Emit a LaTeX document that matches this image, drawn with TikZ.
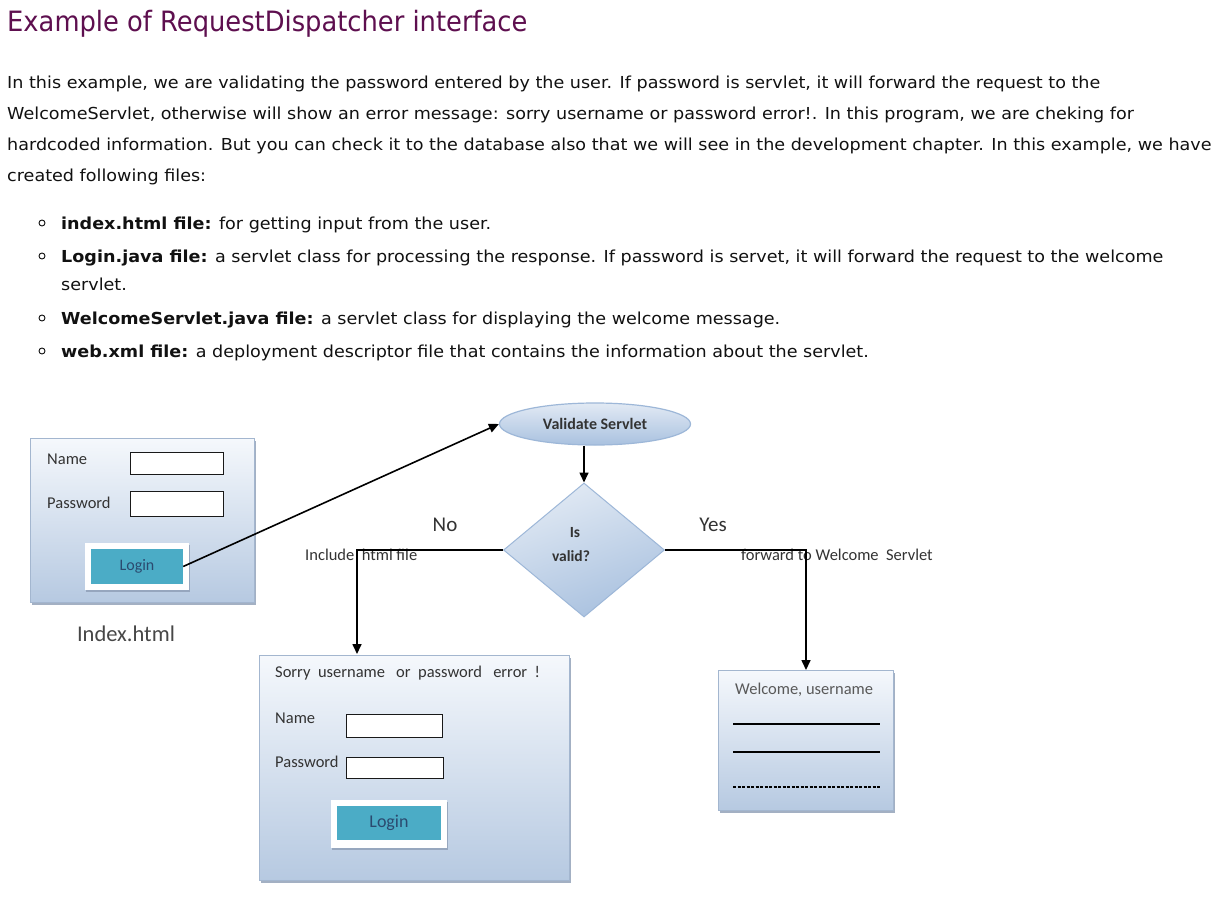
\documentclass[tikz,border=0pt]{standalone}
\usepackage{fontspec}
\setmainfont{DejaVu Sans}[FakeStretch=1.065]
\newfontfamily\titlefont[FakeStretch=0.92]{DejaVu Sans}
\newfontfamily\diafont{Carlito}
\usetikzlibrary{arrows.meta,shapes.geometric,shadows}
\definecolor{titlecol}{HTML}{5E0F4F}
\definecolor{bodytext}{HTML}{111111}
\definecolor{boxtop}{HTML}{F5F8FC}
\definecolor{boxbot}{HTML}{B6C9E1}
\definecolor{boxborder}{HTML}{A3B6CF}
\definecolor{shadowcol}{HTML}{8D9DB5}
\definecolor{teal}{HTML}{4BACC6}
\definecolor{logintext}{HTML}{2B4A6F}
\definecolor{diatext}{HTML}{333333}
\definecolor{elltop}{HTML}{E2EAF4}
\definecolor{ellbot}{HTML}{A9C1DF}
\definecolor{ellborder}{HTML}{9DB7D8}
\begin{document}
\begin{tikzpicture}[x=1pt,y=-1pt,
  bodyline/.style={anchor=base west,inner sep=0pt,text=bodytext,font=\fontsize{16.5}{19}\selectfont},
  bulletmark/.style={draw=bodytext,line width=0.9pt,circle,inner sep=0pt,minimum size=6pt},
  winbox/.style={draw=boxborder,line width=1pt,top color=boxtop,bottom color=boxbot,
    drop shadow={shadow xshift=1.5pt,shadow yshift=-2.5pt,fill=shadowcol,opacity=0.8},
    anchor=north west,inner sep=0pt},
  field/.style={draw=black!90,line width=1.3pt,fill=white,anchor=north west,inner sep=0pt},
  btnframe/.style={fill=white,anchor=north west,inner sep=0pt,
    drop shadow={shadow xshift=1pt,shadow yshift=-2pt,fill=shadowcol,opacity=0.8}},
  btn/.style={fill=teal,inner sep=0pt,text=logintext},
  dlabel/.style={inner sep=0pt,text=diatext,font=\diafont\fontsize{16.5}{18}\selectfont},
  arr/.style={draw=black,line width=1.6pt,-{Triangle[length=10pt,width=9pt]}}]
\useasboundingbox (0,0) rectangle (1231,897);
\fill[white] (0,0) rectangle (1231,897);

% ---------- title and body text ----------
\node[anchor=base west,inner sep=0pt,text=titlecol,font=\titlefont\fontsize{28}{31}\selectfont] (title) at (7,31) {Example of RequestDispatcher interface};

\node[bodyline] (p1) at (7,88) {In this example, we are validating the password entered by the user. If password is servlet, it will forward the request to the};
\node[bodyline] (p2) at (7,119) {WelcomeServlet, otherwise will show an error message: sorry username or password error!. In this program, we are cheking for};
\node[bodyline] (p3) at (7,150) {hardcoded information. But you can check it to the database also that we will see in the development chapter. In this example, we have};
\node[bodyline] (p4) at (7,181) {created following files:};

\node[bulletmark] (b1) at (42,223) {};
\node[bodyline] (l1) at (61,229) {\textbf{index.html file:} for getting input from the user.};
\node[bulletmark] (b2) at (42,256) {};
\node[bodyline] (l2) at (61,262) {\textbf{Login.java file:} a servlet class for processing the response. If password is servet, it will forward the request to the welcome};
\node[bodyline] (l2b) at (61,290) {servlet.};
\node[bulletmark] (b3) at (42,318) {};
\node[bodyline] (l3) at (61,324) {\textbf{WelcomeServlet.java file:} a servlet class for displaying the welcome message.};
\node[bulletmark] (b4) at (42,351) {};
\node[bodyline] (l4) at (61,357) {\textbf{web.xml file:} a deployment descriptor file that contains the information about the servlet.};

% ---------- Index.html window ----------
\node[winbox,minimum width=224pt,minimum height=164pt] (index) at (30,438) {};
\node[dlabel,anchor=west] (iname) at (47,459) {Name};
\node[field,minimum width=93pt,minimum height=22pt] (inamef) at (130,452) {};
\node[dlabel,anchor=west] (ipass) at (47,503) {Password};
\node[field,minimum width=93pt,minimum height=25pt] (ipassf) at (130,491) {};
\node[btnframe,minimum width=104pt,minimum height=47pt] (ibtnframe) at (85,543) {};
\node[btn,minimum width=92pt,minimum height=35pt,font=\diafont\fontsize{16}{18}\selectfont] (ilogin) at (137,566.5) {Login};
\node[inner sep=0pt,text=black!72,font=\diafont\fontsize{22.5}{24}\selectfont] (indexlbl) at (126,634) {Index.html};

% ---------- Validate servlet / decision ----------
\node[ellipse,draw=ellborder,line width=1.2pt,top color=elltop,bottom color=ellbot,
  minimum width=191pt,minimum height=42pt,inner sep=0pt,
  font=\diafont\bfseries\fontsize{16}{18}\selectfont,text=diatext] (valid) at (595,424) {Validate Servlet};
\node[diamond,draw=ellborder,line width=1pt,top color=elltop,bottom color=ellbot,shading angle=20,
  minimum width=161pt,minimum height=134pt,inner sep=0pt] (isvalid) at (584,550) {};
\node[dlabel,font=\diafont\bfseries\fontsize{15.5}{17}\selectfont] (istxt) at (575,533) {Is};
\node[dlabel,font=\diafont\bfseries\fontsize{15.5}{17}\selectfont] (validtxt) at (571,556) {valid?};

\node[inner sep=0pt,text=diatext,font=\diafont\fontsize{21}{23}\selectfont] (no) at (445,525) {No};
\node[inner sep=0pt,text=diatext,font=\diafont\fontsize{21}{23}\selectfont] (yes) at (713,525) {Yes};
\node[dlabel,anchor=west] (inctxt) at (305,555) {Include\ \ html file};
\node[dlabel,anchor=west] (fwdtxt) at (741,555) {forward to Welcome\ \ Servlet};

% ---------- error window ----------
\node[winbox,minimum width=310pt,minimum height=225pt] (errbox) at (259,655) {};
\node[dlabel,anchor=west] (errtxt) at (275,673) {Sorry\ \ username\ \ \ or\ \ password\ \ \ error\ \ !};
\node[dlabel,anchor=west] (ename) at (275,718) {Name};
\node[field,minimum width=96pt,minimum height=23pt] (enamef) at (346,714) {};
\node[dlabel,anchor=west] (epass) at (275,762) {Password};
\node[field,minimum width=97pt,minimum height=21pt] (epassf) at (346,757) {};
\node[btnframe,minimum width=116pt,minimum height=48pt] (ebtnframe) at (331,800) {};
\node[btn,minimum width=104pt,minimum height=34pt,font=\diafont\fontsize{18}{20}\selectfont] (elogin) at (389,823) {Login};

% ---------- welcome window ----------
\node[winbox,minimum width=175pt,minimum height=140pt] (welcome) at (718,670) {};
\node[dlabel,anchor=west,text=black!65] (weltxt) at (735,690) {Welcome, username};
\coordinate (w1a) at (733,724); \coordinate (w1b) at (880,724);
\coordinate (w2a) at (733,752); \coordinate (w2b) at (880,752);
\coordinate (w3a) at (733,787); \coordinate (w3b) at (880,787);
\draw[line width=1.1pt] (w1a) -- (w1b);
\draw[line width=1.1pt] (w2a) -- (w2b);
\draw[line width=1.1pt,dash pattern=on 3pt off 1.5pt] (w3a) -- (w3b);

% ---------- connectors ----------
\coordinate (errin) at (357,654);
\draw[arr] (ilogin.east) -- (valid.west);
\draw[arr] (isvalid.north |- valid.south) -- (isvalid.north);
\draw[arr] (isvalid.west) -| (errin);
\draw[arr] (isvalid.east) -| (welcome.north);
\end{tikzpicture}
\end{document}
